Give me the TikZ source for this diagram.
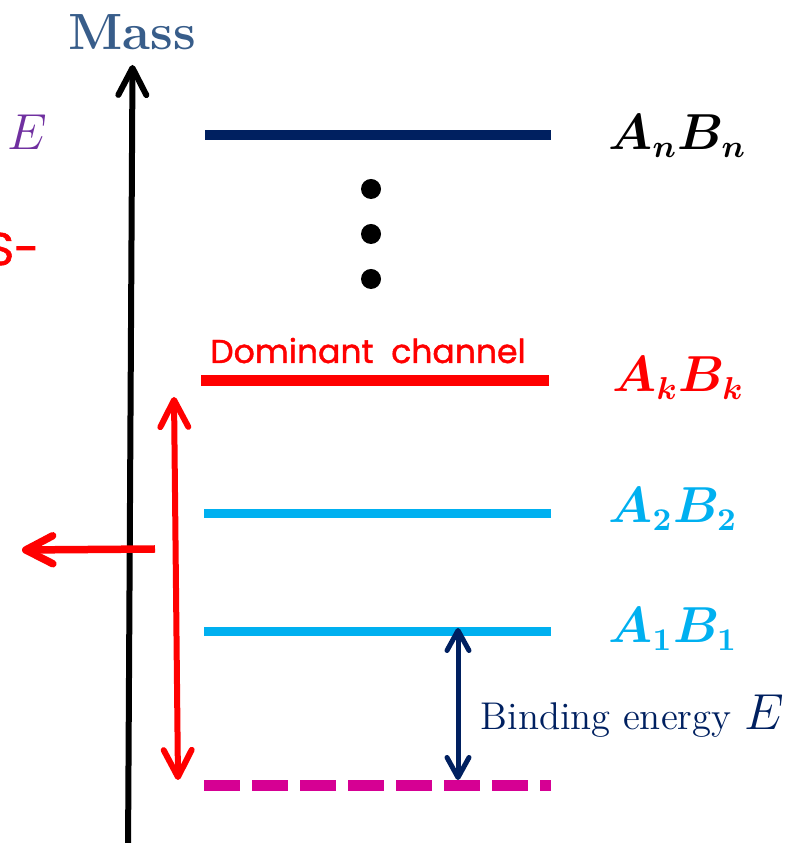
\documentclass[tikz,border=0pt]{standalone}
\usepackage{fontspec}
\usepackage{bm}
\usetikzlibrary{arrows.meta}
\newfontfamily\handfont[FakeBold=1.3]{Poppins}
\definecolor{navy}{HTML}{002060}
\definecolor{skyline}{HTML}{00B0F0}
\definecolor{dashpink}{HTML}{D60093}
\definecolor{massblue}{HTML}{385D8A}
\definecolor{violet}{HTML}{7030A0}
\tikzset{
  level/.style={line width=0.1cm},
  tag/.style={anchor=base west, inner sep=0pt, font=\fontsize{13.5}{16}\selectfont\boldmath},
  barb/.style={line width=0.06cm, {Straight Barb[length=0.27cm, width=0.28cm, round]}-{Straight Barb[length=0.27cm, width=0.28cm, round]}},
  onebarb/.style={line width=0.06cm, -{Straight Barb[length=0.27cm, width=0.28cm, round]}}
}
\begin{document}
\begin{tikzpicture}
    \clip (0,0) rectangle (7.92,8.43);

    % Axis
    \coordinate (axlo) at (1.28,-0.1);
    \coordinate (axhi) at (1.325,7.78);
    \draw[onebarb, black] (axlo) -- (axhi);
    \node[font=\fontsize{14.5}{17}\selectfont\bfseries, text=massblue] (mass) at (1.32,8.11) {Mass};

    % Cut-off texts on the left
    \node[anchor=base west, inner sep=0pt, text=violet, font=\fontsize{13.5}{16}\selectfont] (cutE) at (0.07,6.93) {$E$};
    \node[anchor=base east, inner sep=0pt, text=red, font=\handfont\fontsize{13}{16}\selectfont] (cutS) at (0.40,5.78) {S-};

    % Levels
    \draw[level, navy] (2.05,7.08) coordinate (nL) -- (5.51,7.08) coordinate (nR);
    \draw[level, red, line width=0.11cm] (2.01,4.62) coordinate (kL) -- (5.49,4.62) coordinate (kR);
    \draw[level, skyline, line width=0.09cm] (2.04,3.29) coordinate (twoL) -- (5.51,3.29) coordinate (twoR);
    \draw[level, skyline, line width=0.09cm] (2.04,2.11) coordinate (oneL) -- (5.51,2.11) coordinate (oneR);
    \draw[level, dashpink, line width=0.11cm, dash pattern=on 0.36cm off 0.12cm] (2.04,0.57) coordinate (zeroL) -- (5.51,0.57) coordinate (zeroR);

    % Dots
    \foreach \y in {6.54,6.09,5.64}
        \fill (3.71,\y) circle (0.1);

    \node[anchor=base, inner sep=0pt, text=red, font=\handfont\fontsize{9.4}{12}\selectfont] (dom) at (3.68,4.80) {Dominant\ \ channel};

    % Labels
    \node[tag, text=black] (lblN) at (6.08,6.93) {$A_nB_n$};
    \node[tag, text=red] (lblK) at (6.12,4.51) {$A_kB_k$};
    \node[tag, text=skyline] (lbl2) at (6.08,3.20) {$A_2B_2$};
    \node[tag, text=skyline] (lbl1) at (6.08,2.00) {$A_1B_1$};

    % Arrows
    \coordinate (redtop) at (1.74,4.46);
    \coordinate (redbot) at (1.78,0.63);
    \draw[barb, red] (redtop) -- (redbot);
    \coordinate (outR) at (1.55,2.94);
    \coordinate (outL) at (0.22,2.93);
    \draw[onebarb, red, line width=0.075cm, line cap=butt] (outR) -- (outL);
    \coordinate (bindtop) at (4.58,2.15);
    \coordinate (bindbot) at (4.58,0.63);
    \draw[navy, line width=0.05cm, {Straight Barb[length=0.2cm, width=0.22cm, round]}-{Straight Barb[length=0.2cm, width=0.22cm, round]}] (bindtop) -- (bindbot);
    \node[anchor=base west, inner sep=0pt, text=navy, font=\fontsize{11}{13}\selectfont] (bind) at (4.80,1.13)
        {Binding energy {\fontsize{13.5}{16}\selectfont$E$}};

\end{tikzpicture}
\end{document}
